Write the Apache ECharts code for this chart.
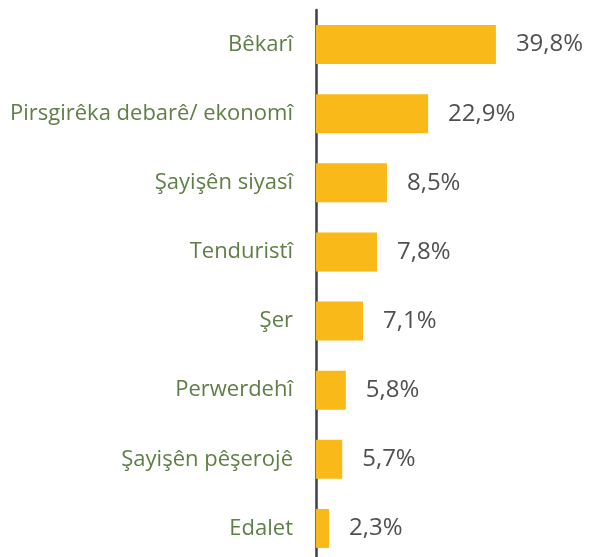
<!DOCTYPE html>
<html>
<head>
<meta charset="utf-8">
<script src="https://cdn.jsdelivr.net/npm/echarts@6/dist/echarts.min.js"></script>
<style>
  html, body { margin: 0; padding: 0; background: #fff; }
  #chart { width: 589px; height: 557px; }
</style>
</head>
<body>
<div id="chart"></div>
<script>
  // categories top to bottom
  var categories = ['Bêkarî', 'Pirsgirêka debarê/ ekonomî', 'Şayişên siyasî', 'Tenduristî', 'Şer', 'Perwerdehî', 'Şayişên pêşerojê', 'Edalet']
  // printed percentages
  var values = [39.8, 22.9, 8.5, 7.8, 7.1, 5.8, 5.7, 2.3]
  // bar lengths as drawn in the picture (same scale as the 39,8% bar)
  var barLengths = [39.8, 24.8, 15.7, 13.5, 10.4, 6.6, 5.8, 2.9]

  var chart = echarts.init(document.getElementById('chart'))
  chart.setOption({
    animation: false,
    grid: {
      left: 316,
      width: 226,
      top: 10,
      height: 553,
      outerBoundsMode: 'none',
      containLabel: false
    },
    xAxis: {
      type: 'value',
      min: 0,
      max: 50,
      show: false
    },
    yAxis: {
      type: 'category',
      inverse: true,
      data: categories,
      axisLine: { show: true, lineStyle: { color: '#3b3f48', width: 2.5 } },
      axisTick: { show: false },
      axisLabel: {
        margin: 23,
        color: '#5e7f45',
        fontFamily: 'Open Sans',
        fontSize: 22
      }
    },
    series: [{
      type: 'bar',
      data: barLengths,
      barWidth: 39,
      itemStyle: { color: '#f9b918' },
      label: {
        show: true,
        position: 'right',
        distance: 20,
        color: '#505050',
        fontFamily: 'Open Sans',
        fontSize: 24,
        formatter: function (p) {
          return values[p.dataIndex].toFixed(1).replace('.', ',') + '%'
        }
      }
    }]
  })
</script>
</body>
</html>
